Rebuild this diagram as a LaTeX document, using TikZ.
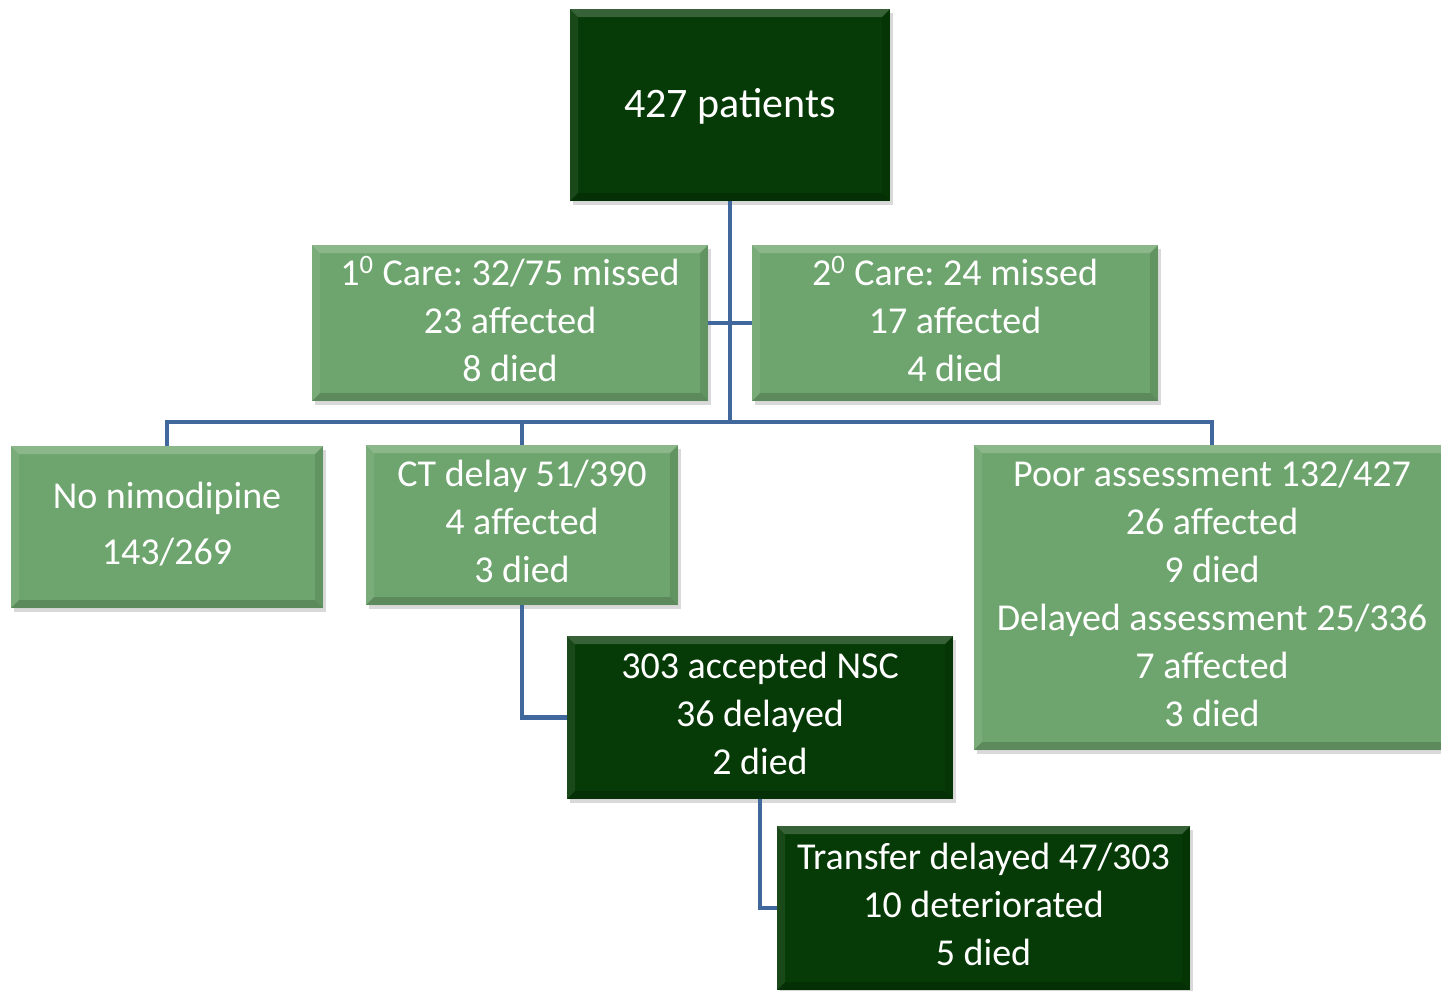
\documentclass[tikz,border=0pt]{standalone}
\usepackage{fontspec}
\setmainfont{Carlito}
\usetikzlibrary{shadows}

\definecolor{darkgreen}{RGB}{6,58,6}
\definecolor{lightgreen}{RGB}{110,165,110}
\definecolor{linkblue}{RGB}{65,104,156}

\tikzset{
    bevel/.style={path picture={
        \coordinate (nw) at (path picture bounding box.north west);
        \coordinate (ne) at (path picture bounding box.north east);
        \coordinate (sw) at (path picture bounding box.south west);
        \coordinate (se) at (path picture bounding box.south east);
        \fill[white, opacity=0.20] (nw) -- (ne) -- ([shift={(-4pt,-4pt)}]ne) -- ([shift={(4pt,-4pt)}]nw) -- cycle;
        \fill[white, opacity=0.08] (nw) -- (sw) -- ([shift={(4pt,4pt)}]sw) -- ([shift={(4pt,-4pt)}]nw) -- cycle;
        \fill[black, opacity=0.10] (ne) -- (se) -- ([shift={(-4pt,4pt)}]se) -- ([shift={(-4pt,-4pt)}]ne) -- cycle;
        \fill[black, opacity=0.16] (sw) -- (se) -- ([shift={(-4pt,4pt)}]se) -- ([shift={(4pt,4pt)}]sw) -- cycle;
    }},
    box/.style={rectangle, inner sep=0pt, align=center, text=white, bevel,
        font=\fontsize{19}{24}\selectfont, text depth=4pt,
        drop shadow={opacity=0.3, shadow xshift=1.5pt, shadow yshift=-2pt}},
    darkbox/.style={box, fill=darkgreen},
    lightbox/.style={box, fill=lightgreen},
    link/.style={draw=linkblue, line width=2.4pt}
}

\begin{document}
\frenchspacing
\begin{tikzpicture}[x=0.5pt, y=-0.5pt]

    % Page frame
    \useasboundingbox (0,0) rectangle (1441,991);
    \clip (0,0) rectangle (1441,991);

    % Boxes
    \node[darkbox, minimum width=160pt, minimum height=96pt, text depth=2pt,
        font=\fontsize{21}{26}\selectfont] (root) at (730,105) {427 patients};

    \node[lightbox, minimum width=198pt, minimum height=78pt] (care1) at (510,323)
        {1\textsuperscript{0} Care: 32/75 missed\\23 affected\\8 died};
    \node[lightbox, minimum width=203pt, minimum height=78pt] (care2) at (955,323)
        {2\textsuperscript{0} Care: 24 missed\\17 affected\\4 died};

    \node[lightbox, minimum width=156pt, minimum height=81pt,
        font=\fontsize{19}{28}\selectfont] (nonim) at (167,527)
        {No nimodipine\\143/269};
    \node[lightbox, minimum width=156pt, minimum height=80pt] (ctdelay) at (522,525)
        {CT delay 51/390\\4 affected\\3 died};
    \node[lightbox, minimum width=238pt, minimum height=152.5pt] (poor) at (1212,597.5)
        {Poor assessment 132/427\\26 affected\\9 died\\Delayed assessment 25/336\\7 affected\\3 died};

    \node[darkbox, minimum width=193pt, minimum height=81.5pt] (nsc) at (760,717.5)
        {303 accepted NSC\\36 delayed\\2 died};
    \node[darkbox, minimum width=206.5pt, minimum height=82pt] (transfer) at (983.5,908)
        {Transfer delayed 47/303\\10 deteriorated\\5 died};

    % Junction on the main bar
    \coordinate (bar) at (730,422);

    % Connectors
    \draw[link] (root.south) -- (bar);
    \draw[link] (care1.east) -- (care2.west);
    \draw[link] (nonim.north) |- (bar) -| (poor.north);
    \draw[link] (ctdelay.north) -- (ctdelay.north |- bar);
    \draw[link] (ctdelay.south) |- (nsc.west);
    \draw[link] (nsc.south) |- (transfer.west);

\end{tikzpicture}
\end{document}
